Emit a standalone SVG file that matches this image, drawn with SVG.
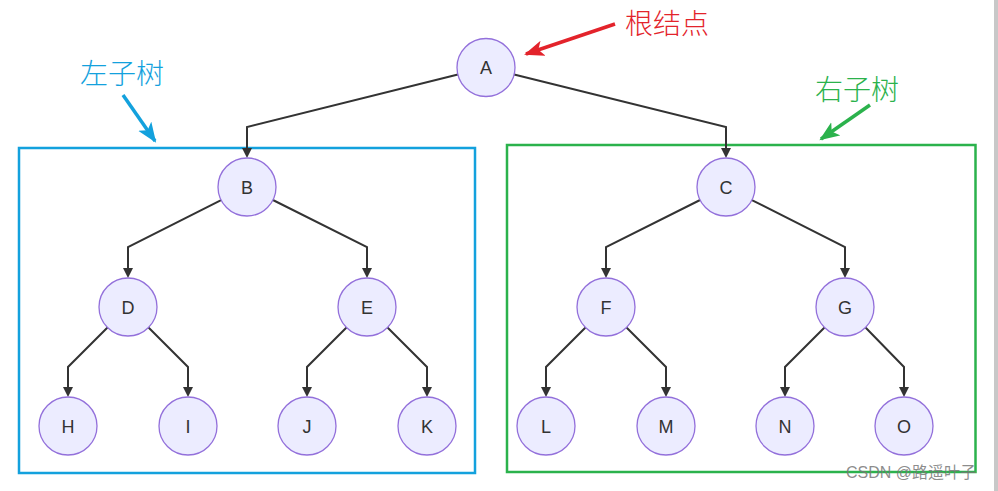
<svg xmlns="http://www.w3.org/2000/svg" width="998" height="491" viewBox="0 0 998 491">
<defs>
<style>
.node circle{fill:#ECECFF;stroke:#9370DB;stroke-width:1.3}
.node text{font-family:"Liberation Sans","DejaVu Sans",sans-serif;font-size:18px;fill:#333;text-anchor:middle}
.edge{fill:none;stroke:#333;stroke-width:2}
.lbl{font-family:"Noto Sans CJK SC","Noto Sans",sans-serif;font-size:28px;font-weight:300}
</style>
<marker id="ah" markerUnits="userSpaceOnUse" markerWidth="12" markerHeight="12" refX="6" refY="5" orient="auto">
<path d="M0,0 L10,5 L0,10 z" fill="#333"/>
</marker>
<marker id="ar" markerUnits="userSpaceOnUse" markerWidth="22" markerHeight="18" refX="18" refY="8" orient="auto">
<path d="M0,0 L20,8 L0,16 L5,8 z" fill="#E3232B"/>
</marker>
<marker id="ab" markerUnits="userSpaceOnUse" markerWidth="22" markerHeight="18" refX="18" refY="8" orient="auto">
<path d="M0,0 L20,8 L0,16 L5,8 z" fill="#13A1DD"/>
</marker>
<marker id="ag" markerUnits="userSpaceOnUse" markerWidth="22" markerHeight="18" refX="18" refY="8" orient="auto">
<path d="M0,0 L20,8 L0,16 L5,8 z" fill="#2BB24C"/>
</marker>
</defs>
<rect width="998" height="491" fill="#fff"/>
<rect x="994" y="0" width="4" height="491" fill="#c8c8c8"/>

<g id="subtrees">
<rect x="19" y="148" width="456" height="325" fill="none" stroke="#13A1DD" stroke-width="2.5"/>
<rect x="507" y="145" width="468.5" height="327" fill="none" stroke="#2BB24C" stroke-width="2.5"/>
</g>

<g id="annotations">
<text class="lbl" x="625" y="34" fill="#E3232B">根结点</text>
<path d="M615,24 L526,54" stroke="#E3232B" stroke-width="3.5" fill="none" marker-end="url(#ar)"/>
<text class="lbl" x="80" y="84" fill="#13A1DD">左子树</text>
<path d="M123,95 L155,141" stroke="#13A1DD" stroke-width="3.5" fill="none" marker-end="url(#ab)"/>
<text class="lbl" x="815" y="100" fill="#2BB24C">右子树</text>
<path d="M870,105 L821,139" stroke="#2BB24C" stroke-width="3.5" fill="none" marker-end="url(#ag)"/>
</g>

<g id="connectors">
<path class="edge" d="M457.9,74.5 L247,127 L247,154" marker-end="url(#ah)"/>
<path class="edge" d="M514.1,74.5 L726,127 L726,154" marker-end="url(#ah)"/>
<path class="edge" d="M221.1,200.1 L128,247 L128,274" marker-end="url(#ah)"/>
<path class="edge" d="M272.9,200 L367,247 L367,274" marker-end="url(#ah)"/>
<path class="edge" d="M700.1,200 L606,247 L606,274" marker-end="url(#ah)"/>
<path class="edge" d="M751.9,200.1 L845,247 L845,274" marker-end="url(#ah)"/>
<path class="edge" d="M107.5,327.5 L68,367 L68,393" marker-end="url(#ah)"/>
<path class="edge" d="M148.5,327.5 L188,367 L188,393" marker-end="url(#ah)"/>
<path class="edge" d="M346.5,327.5 L307,367 L307,393" marker-end="url(#ah)"/>
<path class="edge" d="M387.5,327.5 L427,367 L427,393" marker-end="url(#ah)"/>
<path class="edge" d="M585.5,327.5 L546,367 L546,393" marker-end="url(#ah)"/>
<path class="edge" d="M626.5,327.5 L666,367 L666,393" marker-end="url(#ah)"/>
<path class="edge" d="M824.5,327.5 L785,367 L785,393" marker-end="url(#ah)"/>
<path class="edge" d="M865.5,327.5 L904,367 L904,393" marker-end="url(#ah)"/>
</g>

<g id="A" class="node"><circle cx="486" cy="67.5" r="29"/><text x="486" y="74">A</text></g>
<g id="B" class="node"><circle cx="247" cy="187" r="29"/><text x="247" y="193.5">B</text></g>
<g id="C" class="node"><circle cx="726" cy="187" r="29"/><text x="726" y="193.5">C</text></g>
<g id="D" class="node"><circle cx="128" cy="307" r="29"/><text x="128" y="313.5">D</text></g>
<g id="E" class="node"><circle cx="367" cy="307" r="29"/><text x="367" y="313.5">E</text></g>
<g id="F" class="node"><circle cx="606" cy="307" r="29"/><text x="606" y="313.5">F</text></g>
<g id="G" class="node"><circle cx="845" cy="307" r="29"/><text x="845" y="313.5">G</text></g>
<g id="H" class="node"><circle cx="68" cy="426" r="29"/><text x="68" y="432.5">H</text></g>
<g id="I" class="node"><circle cx="188" cy="426" r="29"/><text x="188" y="432.5">I</text></g>
<g id="J" class="node"><circle cx="307" cy="426" r="29"/><text x="307" y="432.5">J</text></g>
<g id="K" class="node"><circle cx="427" cy="426" r="29"/><text x="427" y="432.5">K</text></g>
<g id="L" class="node"><circle cx="546" cy="426" r="29"/><text x="546" y="432.5">L</text></g>
<g id="M" class="node"><circle cx="666" cy="426" r="29"/><text x="666" y="432.5">M</text></g>
<g id="N" class="node"><circle cx="785" cy="426" r="29"/><text x="785" y="432.5">N</text></g>
<g id="O" class="node"><circle cx="904" cy="426" r="29"/><text x="904" y="432.5">O</text></g>

<text x="846" y="478" font-family="'Liberation Sans','Noto Sans CJK SC',sans-serif" font-size="16" fill="#777" fill-opacity="0.85">CSDN @路遥叶子</text>
</svg>
